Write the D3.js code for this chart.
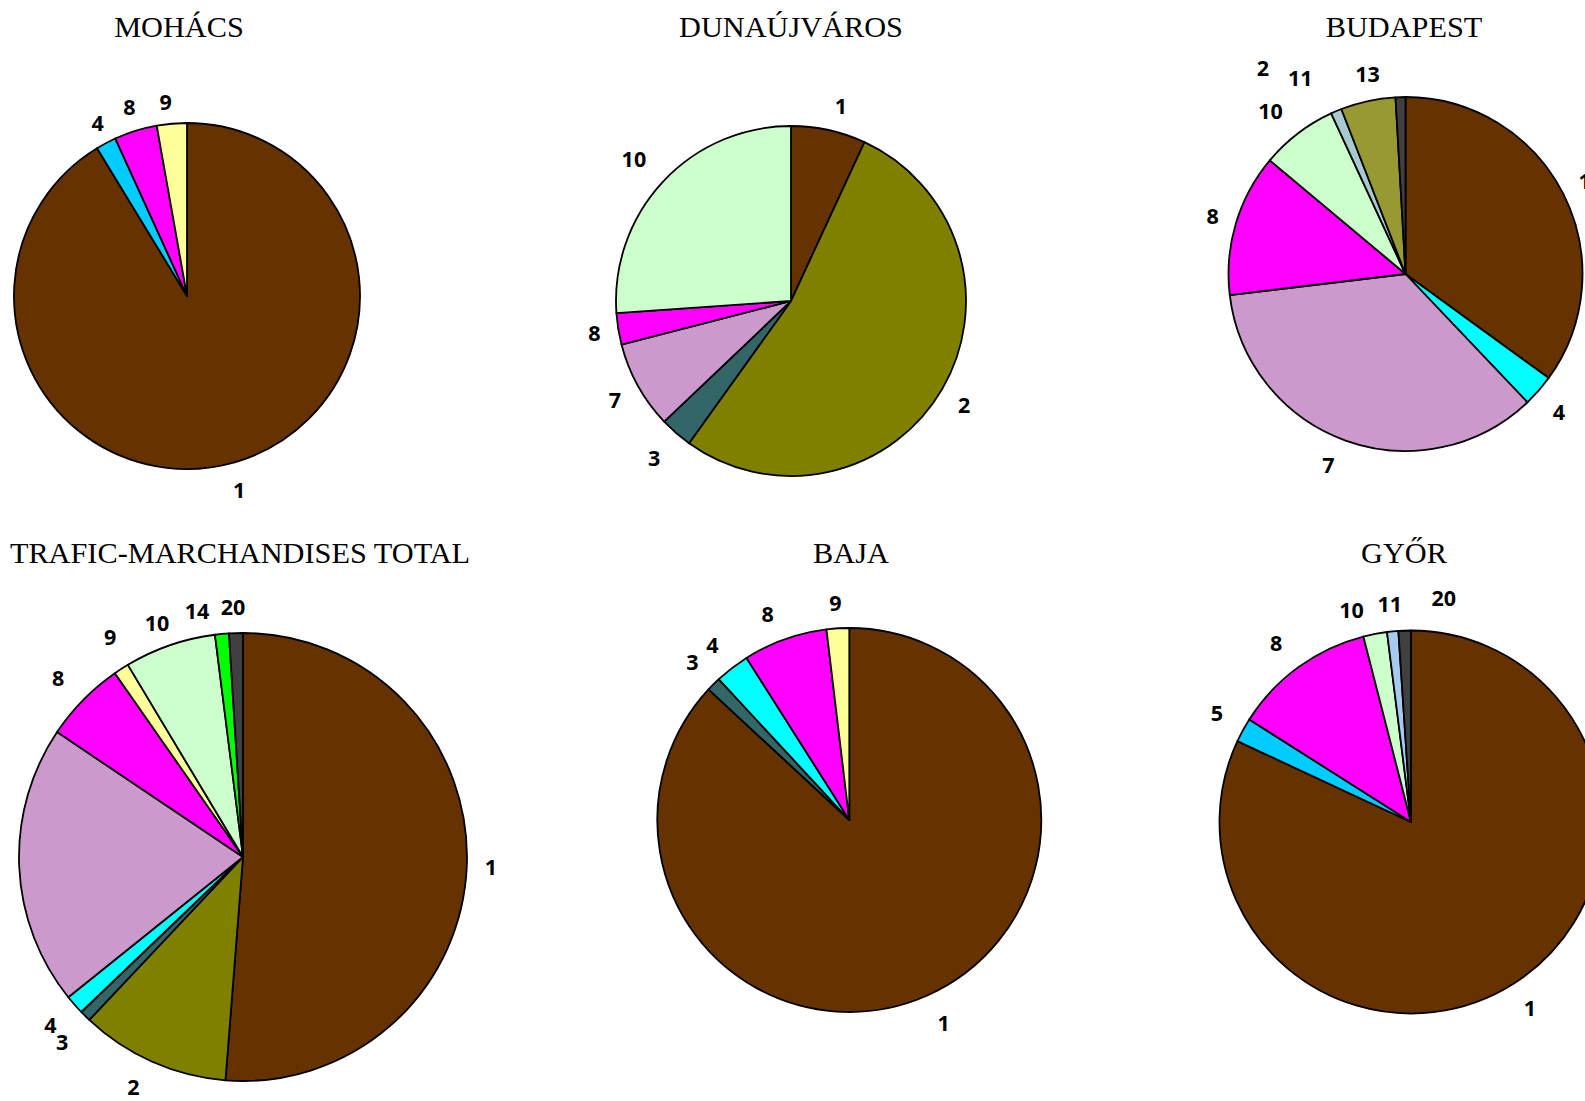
<!DOCTYPE html>
<html>
<head>
<meta charset="utf-8">
<script src="https://cdn.jsdelivr.net/npm/d3@7"></script>
<style>
  html, body { margin: 0; padding: 0; background: #ffffff; overflow: hidden; }
  svg { display: block; }
</style>
</head>
<body>
<svg id="chart" width="1585" height="1101"></svg>
<script>
// ---------- DATA ----------
const pieTitles = ["MOHÁCS", "DUNAÚJVÁROS", "BUDAPEST", "TRAFIC-MARCHANDISES TOTAL", "BAJA", "GYŐR"];

const mohacsCategories = ["1", "4", "8", "9"];
const mohacsValues     = [91.3, 1.9, 4.0, 2.8];

const dunaCategories = ["1", "2", "3", "7", "8", "10"];
const dunaValues     = [6.9, 53.0, 3.0, 8.1, 2.9, 26.1];

const budapestCategories = ["1", "4", "7", "8", "10", "11", "13", "2"];
const budapestValues     = [35.0, 2.9, 35.2, 13.0, 7.0, 1.0, 5.0, 0.9];

const totalCategories = ["1", "2", "3", "4", "7", "8", "9", "10", "14", "20"];
const totalValues     = [51.3, 10.8, 0.8, 1.4, 20.2, 5.9, 1.1, 6.6, 1.0, 1.0];
const totalHiddenLabels = ["7"];

const bajaCategories = ["1", "3", "4", "8", "9"];
const bajaValues     = [86.9, 1.2, 2.9, 7.1, 1.9];

const gyorCategories = ["1", "5", "8", "10", "11", "20"];
const gyorValues     = [81.9, 2.05, 12.0, 2.0, 0.95, 1.05];

// ---------- STYLE / LAYOUT ----------
const mohacsColors   = ["#663300", "#00CCFF", "#FF00FF", "#FFFF99"];
const dunaColors     = ["#663300", "#808000", "#336666", "#CC99CC", "#FF00FF", "#CCFFCC"];
const budapestColors = ["#663300", "#00FFFF", "#CC99CC", "#FF00FF", "#CCFFCC", "#A6CACE", "#999933", "#404040"];
const totalColors    = ["#663300", "#808000", "#336666", "#00FFFF", "#CC99CC", "#FF00FF", "#FFFF99", "#CCFFCC", "#00FF00", "#404040"];
const bajaColors     = ["#663300", "#336666", "#00FFFF", "#FF00FF", "#FFFF99"];
const gyorColors     = ["#663300", "#00CCFF", "#FF00FF", "#CCFFCC", "#A6CAF0", "#404040"];

const pies = [
  { title: pieTitles[0], cats: mohacsCategories,   vals: mohacsValues,   colors: mohacsColors,   hidden: [],
    cx: 187, cy: 296, r: 173, titleX: 179, titleY: 37,
    nudge: { "1": [-1, 2], "4": [3, 4], "8": [1, 2], "9": [-4, 5] } },
  { title: pieTitles[1], cats: dunaCategories,     vals: dunaValues,     colors: dunaColors,     hidden: [],
    cx: 791, cy: 301, r: 175, titleX: 791, titleY: 37,
    nudge: { "1": [7, 3], "10": [-7, -4], "3": [-6, 5], "2": [1, 3], "7": [-2, 1] } },
  { title: pieTitles[2], cats: budapestCategories, vals: budapestValues, colors: budapestColors, hidden: [],
    cx: 1405.5, cy: 274, r: 177, titleX: 1404, titleY: 37,
    nudge: { "7": [-9, -1], "11": [-24, -8], "2": [-137, -2], "13": [6, 0], "10": [-9, -1], "4": [2, 4] } },
  { title: pieTitles[3], cats: totalCategories,    vals: totalValues,    colors: totalColors,    hidden: totalHiddenLabels,
    cx: 243, cy: 857, r: 224, titleX: 240, titleY: 563,
    nudge: { "2": [-9, 1], "3": [-6, 7], "4": [-6, 3], "9": [2, -9], "14": [-22, 4], "10": [-3, 3], "8": [-8, -3], "20": [-2, 1] } },
  { title: pieTitles[4], cats: bajaCategories,     vals: bajaValues,     colors: bajaColors,     hidden: [],
    cx: 849.3, cy: 820, r: 192, titleX: 851, titleY: 563,
    nudge: { "8": [-9, 1], "1": [8, 3], "4": [-5, -1], "3": [-4, -3], "9": [-1, 2] } },
  { title: pieTitles[5], cats: gyorCategories,     vals: gyorValues,     colors: gyorColors,     hidden: [],
    cx: 1411, cy: 822, r: 191.5, titleX: 1404, titleY: 563,
    nudge: { "10": [-18, 3], "20": [40, -5], "8": [-8, -2], "5": [-5, -4], "1": [3, 2] } }
];

const svg = d3.select("#chart");

const pieGen = d3.pie().sort(null).value(d => d.value).startAngle(0).endAngle(2 * Math.PI);

pies.forEach(p => {
  const data = p.cats.map((c, i) => ({ cat: c, value: p.vals[i], color: p.colors[i] }));
  const arcs = pieGen(data);
  const arc = d3.arc().innerRadius(0).outerRadius(p.r);

  const g = svg.append("g").attr("transform", `translate(${p.cx},${p.cy})`);

  g.selectAll("path.slice")
    .data(arcs)
    .enter().append("path")
    .attr("class", "slice")
    .attr("d", arc)
    .attr("fill", d => d.data.color)
    .attr("stroke", "#000")
    .attr("stroke-width", 1.8)
    .attr("stroke-linejoin", "round");

  const labels = g.selectAll("text.lbl")
    .data(arcs.filter(d => p.hidden.indexOf(d.data.cat) < 0))
    .enter().append("text")
    .attr("class", "lbl")
    .attr("text-anchor", "middle")
    .attr("dy", "0.36em")
    .style("font-family", "'Open Sans', 'Noto Sans', sans-serif")
    .style("font-weight", "700")
    .style("font-size", "21.5px")
    .attr("fill", "#000")
    .text(d => d.data.cat);

  labels.each(function(d) {
    const w = this.getComputedTextLength();
    const h = 18;
    const mid = (d.startAngle + d.endAngle) / 2;
    const ux = Math.sin(mid), uy = -Math.cos(mid);
    const rr = p.r + 18;
    let x = rr * ux + (w / 2) * ux;
    let y = rr * uy + (h / 2) * uy;
    const n = p.nudge[d.data.cat];
    if (n) { x += n[0]; y += n[1]; }
    d3.select(this).attr("x", x).attr("y", y);
  });

  svg.append("text")
    .attr("x", p.titleX)
    .attr("y", p.titleY)
    .attr("text-anchor", "middle")
    .style("font-family", "'Liberation Serif', 'Times New Roman', serif")
    .style("font-size", "30.3px")
    .attr("fill", "#000")
    .text(p.title);
});
</script>
</body>
</html>
